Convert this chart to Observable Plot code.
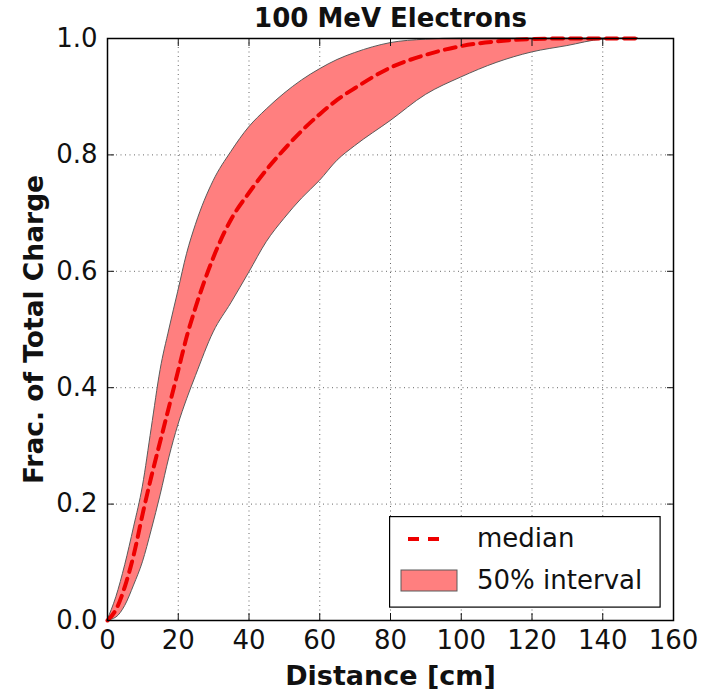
<!DOCTYPE html>
<html>
<head>
<meta charset="utf-8">
<script src="https://cdn.jsdelivr.net/npm/d3@7"></script>
<script src="https://cdn.jsdelivr.net/npm/@observablehq/plot@0.6"></script>
<style>
  body { margin: 0; background: #fff; }
  #wrap { position: relative; width: 709px; height: 690px; font-family: "DejaVu Sans", sans-serif; }
  #legend { position: absolute; left: 389px; top: 516px; }
</style>
</head>
<body>
<div id="wrap"></div>
<script>
// Distance [cm]
const distance = [0, 2.5, 5, 7.5, 10, 12.5, 15, 17.5, 20, 22.5, 25, 30, 35, 40, 45, 50, 55, 60, 65, 70, 80, 90, 100, 110, 120, 130, 140, 150];
// median fraction of total charge
const median   = [0, 0.02, 0.06, 0.115, 0.185, 0.25, 0.31, 0.37, 0.43, 0.49, 0.54, 0.625, 0.69, 0.735, 0.775, 0.81, 0.842, 0.87, 0.895, 0.915, 0.95, 0.972, 0.987, 0.995, 0.999, 1.0, 1.0, 1.0];
// upper edge of 50% interval
const upper    = [0, 0.04, 0.095, 0.16, 0.23, 0.33, 0.43, 0.50, 0.565, 0.63, 0.68, 0.755, 0.805, 0.847, 0.878, 0.905, 0.928, 0.947, 0.963, 0.975, 0.992, 0.998, 1.0, 1.0, 1.0, 1.0, 1.0, 1.0];
// lower edge of 50% interval
const lower    = [0, 0.005, 0.025, 0.06, 0.10, 0.155, 0.215, 0.28, 0.335, 0.38, 0.42, 0.495, 0.545, 0.597, 0.65, 0.69, 0.725, 0.755, 0.79, 0.815, 0.858, 0.903, 0.933, 0.958, 0.976, 0.987, 0.998, 1.0];

const xTicks = [0, 20, 40, 60, 80, 100, 120, 140, 160];
const yTicks = [0, 0.2, 0.4, 0.6, 0.8, 1.0];

const title = "100 MeV Electrons";
const xLabel = "Distance [cm]";
const yLabel = "Frac. of Total Charge";
const legendLabels = ["median", "50% interval"];

const data = distance.map((d, i) => ({x: d, median: median[i], upper: upper[i], lower: lower[i]}));

const font = "DejaVu Sans";
const bandFill = "#ff7f7f";
const bandEdge = "#5a5a5a";
const medianColor = "#ee0000";

const chart = Plot.plot({
  width: 709,
  height: 690,
  marginLeft: 107,
  marginRight: 36,
  marginTop: 38,
  marginBottom: 70,
  style: {fontFamily: font, background: "#fff", color: "#111"},
  x: {domain: [0, 160]},
  y: {domain: [0, 1]},
  marks: [
    Plot.gridX(xTicks.slice(1, -1), {stroke: "#000", strokeOpacity: 0.75, strokeWidth: 0.8, strokeDasharray: "1,3.5"}),
    Plot.gridY(yTicks.slice(1, -1), {stroke: "#000", strokeOpacity: 0.75, strokeWidth: 0.8, strokeDasharray: "1,3.5"}),
    Plot.areaY(data, {x: "x", y1: "lower", y2: "upper", curve: "monotone-x", fill: bandFill, stroke: bandEdge, strokeWidth: 1}),
    Plot.line(data, {x: "x", y: "median", curve: "monotone-x", stroke: medianColor, strokeWidth: 4, strokeDasharray: "11,7"}),
    Plot.axisX(xTicks, {anchor: "bottom", tickSize: 0, tickPadding: 10, fontSize: 26, label: null, tickFormat: d => d3.format("d")(d)}),
    Plot.axisX(xTicks, {anchor: "bottom", tickSize: -7, tickFormat: () => "", label: null}),
    Plot.axisX(xTicks, {anchor: "top", tickSize: -7, tickFormat: () => "", label: null}),
    Plot.axisY(yTicks, {anchor: "left", tickSize: 0, tickPadding: 10, fontSize: 26, label: null, tickFormat: d3.format(".1f")}),
    Plot.axisY(yTicks, {anchor: "left", tickSize: -7, tickFormat: () => "", label: null}),
    Plot.axisY(yTicks, {anchor: "right", tickSize: -7, tickFormat: () => "", label: null}),
    Plot.frame({stroke: "#000", strokeWidth: 1.5}),
    Plot.text([title], {frameAnchor: "top", textAnchor: "middle", lineAnchor: "middle", dy: -20, fontSize: 26, fontWeight: "bold", fill: "#111"}),
    Plot.text([xLabel], {frameAnchor: "bottom", textAnchor: "middle", lineAnchor: "middle", dy: 56, fontSize: 27, fontWeight: "bold", fill: "#111"}),
    Plot.text([yLabel], {frameAnchor: "left", textAnchor: "middle", lineAnchor: "middle", dx: -73, rotate: -90, fontSize: 26.5, fontWeight: "bold", fill: "#111"})
  ]
});

const wrap = document.getElementById("wrap");
wrap.appendChild(chart);

// Legend (drawn as a small SVG overlay inside the axes area)
const lg = d3.create("svg").attr("id", "legend").attr("width", 272).attr("height", 92)
  .style("font-family", font);
lg.append("rect").attr("x", 0.6).attr("y", 0.6).attr("width", 270.5).attr("height", 90.5)
  .attr("fill", "#fff").attr("stroke", "#000").attr("stroke-width", 1.2);
lg.append("line").attr("x1", 19).attr("x2", 51).attr("y1", 23).attr("y2", 23)
  .attr("stroke", medianColor).attr("stroke-width", 4).attr("stroke-dasharray", "11,9");
lg.append("rect").attr("x", 12).attr("y", 54).attr("width", 56).attr("height", 21)
  .attr("fill", bandFill).attr("stroke", bandEdge).attr("stroke-width", 1);
lg.append("text").attr("x", 88).attr("y", 31).attr("font-size", 26).attr("fill", "#111").text(legendLabels[0]);
lg.append("text").attr("x", 88).attr("y", 73).attr("font-size", 26).attr("fill", "#111").text(legendLabels[1]);
wrap.appendChild(lg.node());
</script>
</body>
</html>
